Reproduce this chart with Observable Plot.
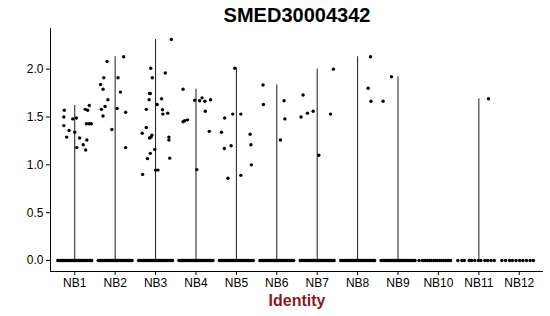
<!DOCTYPE html>
<html>
<head>
<meta charset="utf-8">
<script src="https://cdn.jsdelivr.net/npm/d3@7"></script>
<script src="https://cdn.jsdelivr.net/npm/@observablehq/plot@0.6"></script>
<style>
  html, body { margin: 0; padding: 0; background: #fff; }
</style>
</head>
<body>
<div id="chart"></div>
<script>
const title = "SMED30004342";
const xLabel = "Identity";
const clusters = ["NB1", "NB2", "NB3", "NB4", "NB5", "NB6", "NB7", "NB8", "NB9", "NB10", "NB11", "NB12"];
const yTicks = [0, 0.5, 1, 1.5, 2];

// expressed cells: [jitter, expression]
const exprNB1 = [[-0.26,1.57],[-0.27,1.50],[-0.27,1.41],[-0.20,1.29],[-0.14,1.36],[-0.05,1.48],[0.00,1.34],[0.04,1.49],[0.05,1.18],[0.12,1.28],[0.21,1.21],[0.26,1.58],[0.32,1.57],[0.36,1.62],[0.30,1.26],[0.27,1.155],[0.29,1.43],[0.36,1.43],[0.41,1.43]];
const exprNB2 = [[-0.36,1.84],[-0.30,1.79],[-0.28,1.91],[-0.20,2.08],[-0.18,1.68],[-0.25,1.61],[-0.34,1.58],[-0.30,1.51],[-0.08,1.37],[0.05,1.59],[0.07,1.91],[0.13,1.76],[0.21,2.13],[0.26,1.55],[0.26,1.18]];
const exprNB3 = [[-0.32,0.90],[-0.33,1.33],[-0.23,1.39],[-0.23,1.58],[-0.20,1.065],[-0.13,1.12],[-0.15,1.28],[-0.11,1.29],[-0.09,1.31],[-0.12,2.01],[-0.08,1.91],[-0.15,1.745],[-0.13,1.745],[-0.16,1.68],[-0.02,1.16],[0.00,0.945],[0.06,0.945],[0.04,1.63],[0.15,1.69],[0.17,1.575],[0.18,1.53],[0.24,1.96],[0.30,1.54],[0.33,1.29],[0.33,1.26],[0.35,1.07],[0.39,2.31]];
const exprNB4 = [[-0.32,1.79],[-0.32,1.45],[-0.28,1.46],[-0.21,1.47],[-0.03,1.675],[0.09,1.67],[0.15,1.70],[0.22,1.665],[0.36,1.68],[0.23,1.56],[0.33,1.35],[0.02,0.95]];
const exprNB5 = [[-0.29,1.49],[-0.37,1.34],[-0.30,1.17],[-0.21,0.86],[-0.13,1.20],[-0.09,1.53],[-0.04,2.01],[0.11,1.53],[0.11,0.89],[0.34,1.32],[0.36,1.21],[0.37,1.00]];
const exprNB6 = [[-0.34,1.835],[-0.33,1.63],[0.09,1.26],[0.18,1.67],[0.20,1.48]];
const exprNB7 = [[-0.35,1.73],[-0.40,1.50],[-0.24,1.54],[-0.10,1.56],[0.04,1.10],[0.33,1.53],[0.40,2.00]];
const exprNB8 = [[0.32,2.13],[0.26,1.80],[0.33,1.665]];
const exprNB9 = [[-0.37,1.665],[-0.16,1.92]];
const exprNB10 = [];
const exprNB11 = [[0.24,1.69]];
const exprNB12 = [];
const expressed = [exprNB1, exprNB2, exprNB3, exprNB4, exprNB5, exprNB6, exprNB7, exprNB8, exprNB9, exprNB10, exprNB11, exprNB12];

// non-expressing cells (value 0): jitter offsets
const zeroDense = [-0.42,-0.39,-0.36,-0.33,-0.30,-0.27,-0.24,-0.21,-0.18,-0.15,-0.12,-0.09,-0.06,-0.03,0,0.03,0.06,0.09,0.12,0.15,0.18,0.21,0.24,0.27,0.30,0.33,0.36,0.39,0.42];
const zeroNB10 = [-0.48,-0.40,-0.36,-0.32,-0.27,-0.22,-0.18,-0.12,-0.07,-0.02,0.03,0.08,0.13,0.18,0.22,0.26,0.30,0.48];
const zeroNB11 = [-0.42,-0.36,-0.24,-0.18,-0.10,-0.01,0.05,0.15,0.22,0.30,0.38];
const zeroNB12 = [-0.43,-0.34,-0.24,-0.17,-0.08,0.01,0.09,0.18,0.27,0.35];
const zeros = [zeroDense, zeroDense, zeroDense, zeroDense, zeroDense, zeroDense, zeroDense, zeroDense, zeroDense, zeroNB10, zeroNB11, zeroNB12];

const points = [];
clusters.forEach((c, i) => {
  zeros[i].forEach(j => points.push({cluster: c, pos: i + 1 + j, value: 0}));
  expressed[i].forEach(([j, v]) => points.push({cluster: c, pos: i + 1 + j, value: v}));
});
const violins = clusters
  .map((c, i) => ({cluster: c, pos: i + 1, max: expressed[i].length ? d3.max(expressed[i], d => d[1]) : 0}))
  .filter(d => d.max > 0);

const yMin = -0.115, yMax = 2.425, xMin = 0.4, xMax = 12.6;

const chart = Plot.plot({
  width: 550,
  height: 316,
  marginLeft: 50,
  marginRight: 7,
  marginTop: 28,
  marginBottom: 45,
  style: {fontFamily: "'Liberation Sans', Arial, Helvetica, sans-serif", fontSize: "12px", color: "#000", background: "#fff"},
  x: {type: "linear", domain: [xMin, xMax]},
  y: {domain: [yMin, yMax]},
  marks: [
    Plot.ruleX(violins, {x: "pos", y1: 0, y2: "max", stroke: "#1a1a1a", strokeWidth: 1}),
    Plot.dot(points, {x: "pos", y: "value", r: 1.7, fill: "#000", stroke: "none"}),
    Plot.axisY({ticks: yTicks, tickFormat: d3.format(".1f"), tickSize: 4, tickPadding: 3, label: null, fontSize: 12, stroke: "#000", fill: "#000"}),
    Plot.axisX({ticks: clusters.map((_, i) => i + 1), tickFormat: d => clusters[d - 1], tickSize: 4, tickPadding: 3, label: null, fontSize: 12, stroke: "#000", fill: "#000"}),
    Plot.ruleX([xMin], {stroke: "#000", strokeWidth: 1}),
    Plot.ruleY([yMin], {stroke: "#000", strokeWidth: 1}),
    Plot.text([title], {text: d => d, frameAnchor: "top", lineAnchor: "middle", dy: -12.5, fontSize: 20, fontWeight: "bold", fill: "#000"}),
    Plot.text([xLabel], {text: d => d, frameAnchor: "bottom", lineAnchor: "middle", dy: 29, fontSize: 16, fontWeight: "bold", fill: "#8B1A1A"})
  ]
});
document.getElementById("chart").appendChild(chart);
</script>
</body>
</html>
